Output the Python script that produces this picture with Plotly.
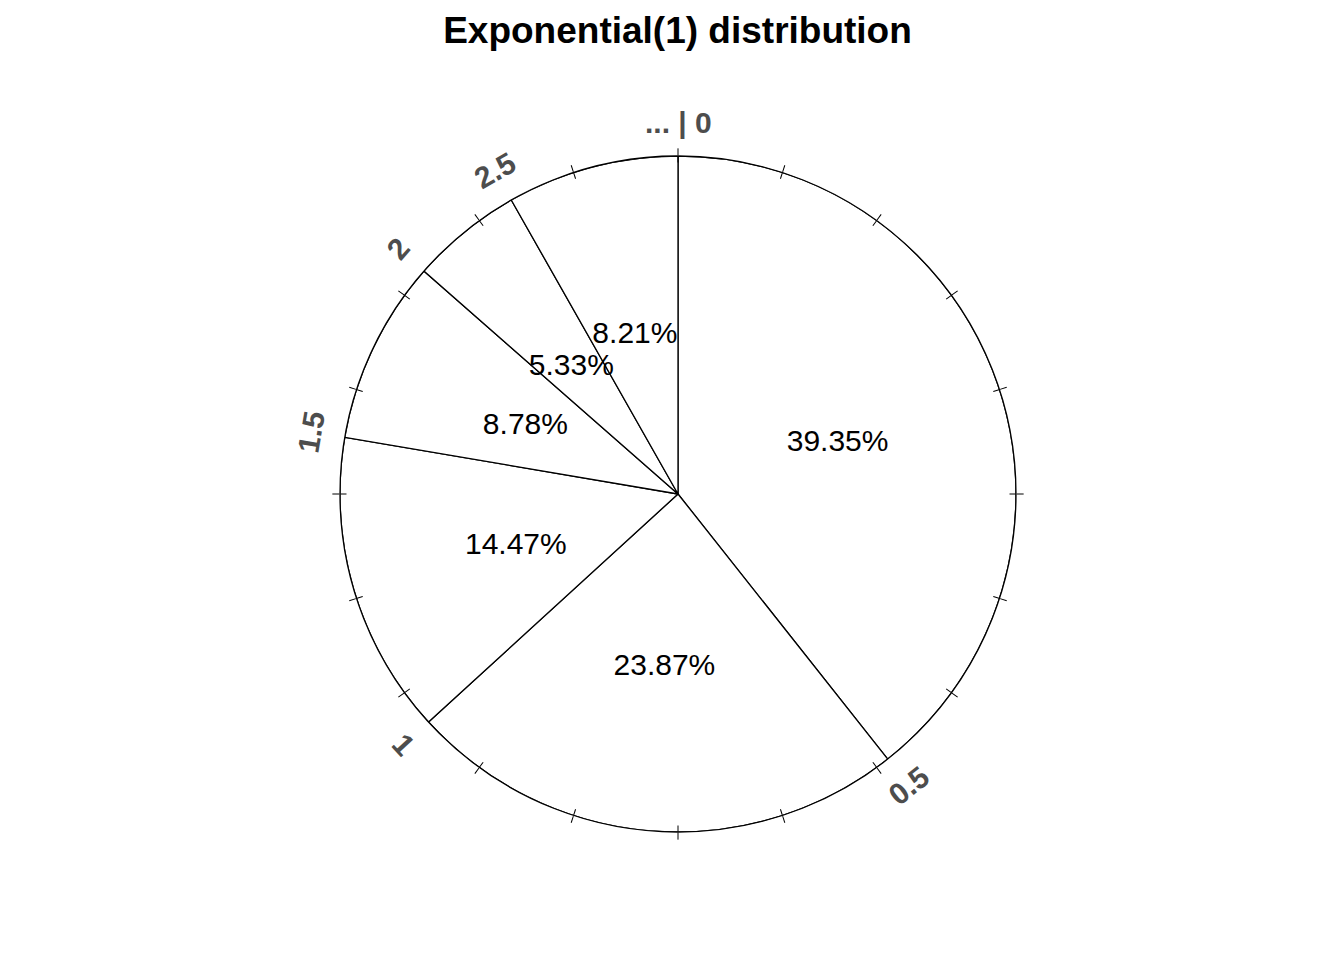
import math
import plotly.graph_objects as go

# ---- data ----
boundary_labels = ["... | 0", "0.5", "1", "1.5", "2", "2.5"]
percents = [39.35, 23.87, 14.47, 8.78, 5.33, 8.21]
title_text = "Exponential(1) distribution"

# ---- geometry (layout only) ----
W, H = 1344, 960
OFF = 8  # page body margin compensation
CX, CY, R = 678 - OFF, 494 - OFF, 338
LABEL_R = 372
TEXT_DY = 5  # baseline adjustment for slice labels
FONT = "Liberation Sans, Arial, sans-serif"

total = sum(percents)
starts, widths, mids = [], [], []
acc = 0.0
for p in percents:
    w = p / total * 360.0
    starts.append(acc)
    widths.append(w)
    mids.append(acc + w / 2)
    acc += w

dom_x = [(CX - R) / W, (CX + R) / W]
dom_y = [1 - (CY + R) / H, 1 - (CY - R) / H]
dom_y_txt = [1 - (CY + TEXT_DY + R) / H, 1 - (CY + TEXT_DY - R) / H]

fig = go.Figure()
fig.add_trace(go.Barpolar(
    r=[1] * len(percents), theta=mids, width=widths,
    marker=dict(color="white", line=dict(color="black", width=1.3)),
    subplot="polar", hoverinfo="skip", showlegend=False,
))
fig.add_trace(go.Scatterpolar(
    r=[0], theta=[0], mode="markers", marker=dict(opacity=0),
    subplot="polar2", hoverinfo="skip", showlegend=False,
))
fig.add_trace(go.Scatterpolar(
    r=[0.5] * len(percents), theta=mids, mode="text",
    text=[f"{p:.2f}%" for p in percents],
    textfont=dict(family=FONT, size=30, color="black"),
    subplot="polar3", hoverinfo="skip", showlegend=False,
))

tickvals = list(range(0, 360, 18))
common_ang = dict(type="linear", rotation=90, direction="clockwise",
                  tickvals=tickvals, showticklabels=False, showgrid=False,
                  tickcolor="black", tickwidth=1.3)
fig.update_layout(
    width=W, height=H,
    paper_bgcolor="white", plot_bgcolor="white",
    margin=dict(l=0, r=0, t=0, b=0),
    showlegend=False,
    title=dict(text=f"<b>{title_text}</b>", x=(677.5 - OFF) / W, xanchor="center",
               xref="paper", y=1 - 22 / H, yanchor="middle",
               font=dict(family=FONT, size=37, color="black")),
    polar=dict(domain=dict(x=dom_x, y=dom_y), bgcolor="white",
               radialaxis=dict(visible=False, range=[0, 1]),
               angularaxis=dict(**common_ang, ticks="outside", ticklen=7,
                                showline=True, linecolor="black", linewidth=1.3)),
    polar2=dict(domain=dict(x=dom_x, y=dom_y), bgcolor="rgba(0,0,0,0)",
                radialaxis=dict(visible=False, range=[0, 1]),
                angularaxis=dict(**common_ang, ticks="inside", ticklen=6,
                                 showline=False)),
    polar3=dict(domain=dict(x=dom_x, y=dom_y_txt), bgcolor="rgba(0,0,0,0)",
                radialaxis=dict(visible=False, range=[0, 1]),
                angularaxis=dict(type="linear", rotation=90, direction="clockwise",
                                 visible=False)),
)

annotations = []
for lab, th in zip(boundary_labels, starts):
    rad = math.radians(th)
    px = CX + LABEL_R * math.sin(rad)
    py = CY - LABEL_R * math.cos(rad)
    if th <= 90:
        ang = th
    elif th < 270:
        ang = th - 180
    else:
        ang = th - 360
    annotations.append(dict(
        x=px / W, y=1 - py / H, xref="paper", yref="paper",
        text=f"<b>{lab}</b>", showarrow=False, textangle=ang,
        xanchor="center", yanchor="middle",
        font=dict(family=FONT, size=30, color="#4D4D4D"),
    ))
fig.update_layout(annotations=annotations)

fig.write_html("out.html")
